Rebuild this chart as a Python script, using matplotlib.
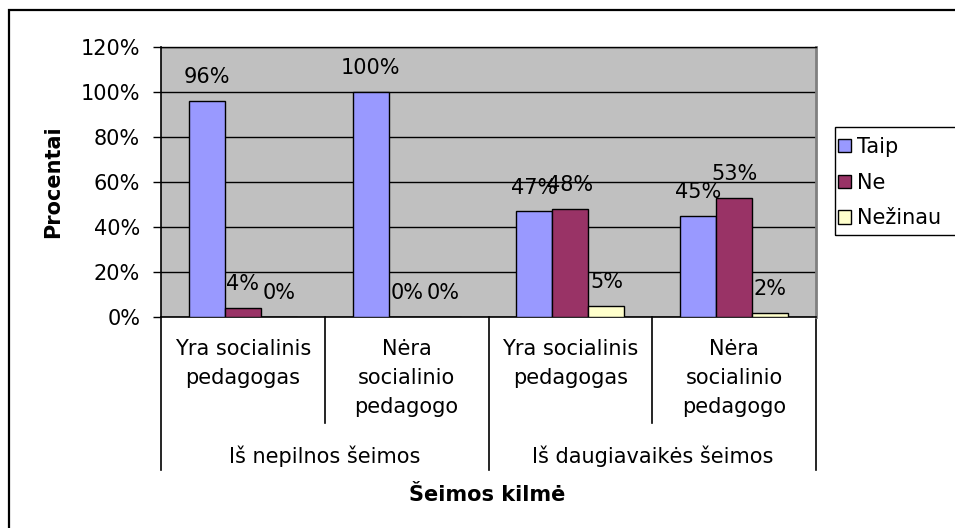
import matplotlib
matplotlib.use("Agg")
import matplotlib.pyplot as plt
from matplotlib.patches import Rectangle
from matplotlib.transforms import blended_transform_factory
import numpy as np

plt.rcParams['font.family'] = ['DejaVu Sans']

subcats = ["Yra socialinis\npedagogas", "Nėra\nsocialinio\npedagogo",
           "Yra socialinis\npedagogas", "Nėra\nsocialinio\npedagogo"]
groups = ["Iš nepilnos šeimos", "Iš daugiavaikės šeimos"]
series = ["Taip", "Ne", "Nežinau"]
taip = [96, 100, 47, 45]
ne = [4, 0, 48, 53]
nezinau = [0, 0, 5, 2]
values = [taip, ne, nezinau]
colors = ["#9999FF", "#993366", "#FFFFCC"]
yticks = [0, 20, 40, 60, 80, 100, 120]

W, H = 955, 528
fig = plt.figure(figsize=(W / 100, H / 100), dpi=100)
L, R, T, B = 161, 816, 47, 317
ax = fig.add_axes([L / W, 1 - B / H, (R - L) / W, (B - T) / H])
ax.set_facecolor("#C0C0C0")

fs = 15
n = len(subcats)
x = np.arange(n)
bw = 0.22
for i, (vals, c, name) in enumerate(zip(values, colors, series)):
    pos = x + (i - 1) * bw
    ax.bar(pos, vals, width=bw, color=c, edgecolor="black", linewidth=1.0,
           label=name, zorder=3)
    for p, v in zip(pos, vals):
        ax.annotate(f"{v}%", (p, v), xytext=(0, 17), textcoords="offset points",
                    ha="center", va="center", fontsize=fs, zorder=4)

ax.set_xlim(-0.5, n - 0.5)
ax.set_ylim(0, 120)
ax.set_yticks(yticks)
ax.set_yticklabels([f"{t}%" for t in yticks], fontsize=fs)
ax.yaxis.grid(True, color="black", linewidth=1.0, zorder=1)
ax.set_axisbelow(True)
ax.tick_params(axis="y", direction="out", length=6, width=1, pad=9)
ax.set_xticks([])
for s in ["left", "bottom"]:
    ax.spines[s].set_color("black")
    ax.spines[s].set_linewidth(1.2)
ax.spines["top"].set_color("black")
ax.spines["top"].set_linewidth(1.0)
ax.spines["right"].set_color("#808080")
ax.spines["right"].set_linewidth(2.0)

fig.text(53 / W, 1 - 182 / H, "Procentai", rotation=90, ha="center", va="center",
         fontsize=fs, fontweight="bold")

# multi-level category axis
tr = blended_transform_factory(ax.transData, ax.transAxes)
ph = B - T
def ay(py):
    return (B - py) / ph

for xb in [-0.5, 1.5, 3.5]:
    ax.plot([xb, xb], [0, ay(470)], color="black", lw=1.2, transform=tr, clip_on=False)
for xb in [0.5, 2.5]:
    ax.plot([xb, xb], [0, ay(423)], color="black", lw=1.2, transform=tr, clip_on=False)

for xi, lab in zip(x, subcats):
    ax.text(xi, ay(339), lab, transform=tr, ha="center", va="top", fontsize=fs,
            linespacing=1.55)
for gi, g in enumerate(groups):
    ax.text(gi * 2 + 0.5, ay(456), g, transform=tr, ha="center", va="center", fontsize=fs)

fig.text(487 / W, 1 - 495 / H, "Šeimos kilmė", ha="center", va="center",
         fontsize=fs, fontweight="bold")

# legend: frame drawn separately (runs off the right edge as in the reference)
leg = fig.legend(loc="upper left", bbox_to_anchor=(838 / W, 1 - 137 / H),
                 fontsize=fs, frameon=False,
                 handlelength=0.6, handleheight=0.6, handletextpad=0.3,
                 borderpad=0.0, labelspacing=0.75, borderaxespad=0)
fig.patches.append(Rectangle((835 / W, 1 - 235 / H), 0.3, 108 / H,
                             transform=fig.transFigure, fill=False,
                             edgecolor="black", linewidth=1.0))

fig.patches.append(Rectangle((9 / W, -0.1), 1.2, (H - 10) / H + 0.1,
                             transform=fig.transFigure, fill=False,
                             edgecolor="black", linewidth=1.6))

fig.savefig("out.png", dpi=100)
